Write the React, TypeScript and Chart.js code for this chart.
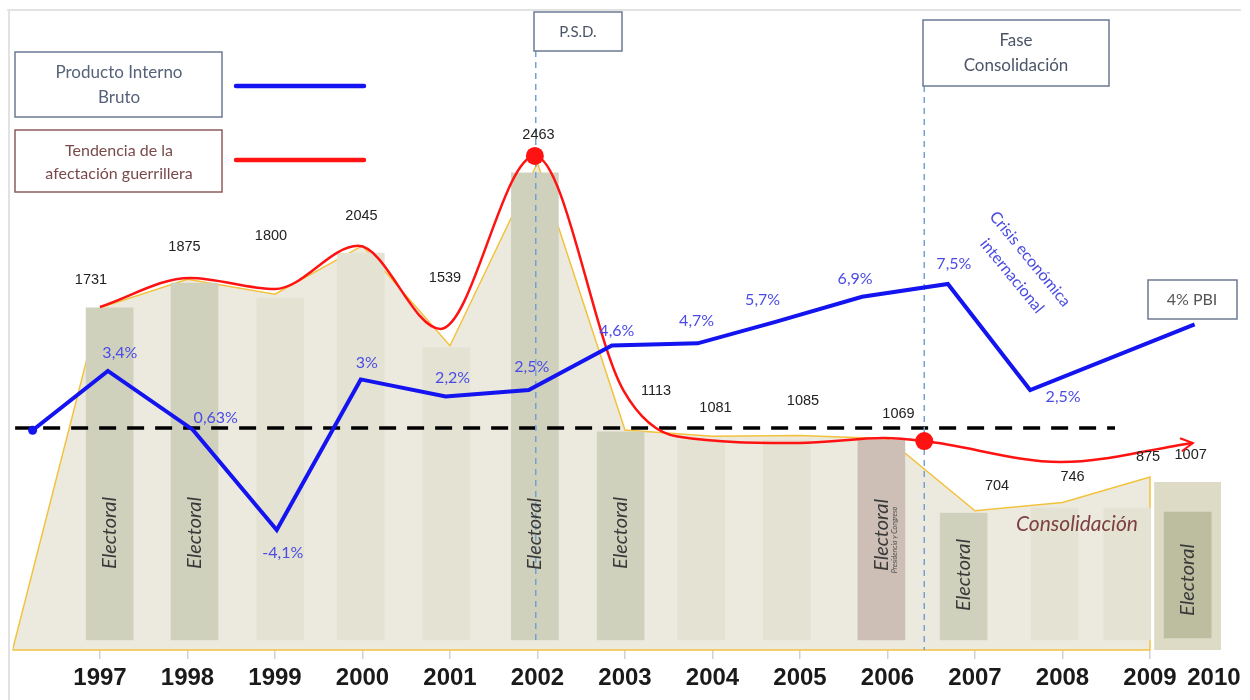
import { useEffect, useRef } from 'react';
import { Chart, registerables } from 'chart.js';

Chart.register(...registerables);

// ---------------- data ----------------
const xTickYears = [1997, 1998, 1999, 2000, 2001, 2002, 2003, 2004, 2005, 2006, 2007, 2008, 2009, 2009.73];
const xTickLabels = ['1997', '1998', '1999', '2000', '2001', '2002', '2003', '2004', '2005', '2006', '2007', '2008', '2009', '2010'];

// guerrilla affectation (area)
const areaYears = [1996, 1997, 1998, 1999, 2000, 2001, 2002, 2003, 2004, 2005, 2006, 2007, 2008, 2009];
const areaCounts = [0, 1731, 1875, 1800, 2045, 1539, 2463, 1113, 1081, 1085, 1069, 704, 746, 875];

// count labels
const countLabelYears = [1997, 1998, 1999, 2000, 2001, 2002, 2003, 2004, 2005, 2006, 2007, 2008, 2009, 2009.43];
const countLabelValues = [1731, 1875, 1800, 2045, 1539, 2463, 1113, 1081, 1085, 1069, 704, 746, 875, 1007];

// yearly columns
const barYears = [1997.11, 1998.08, 1999.06, 1999.98, 2000.96, 2001.97, 2002.95, 2003.87, 2004.85, 2005.93, 2006.87, 2007.91, 2008.74];
const barTops = [1730, 1856, 1780, 2008, 1528, 2413, 1103, 1062, 1062, 1062, 693, 718, 718];
const barKinds = ['E', 'E', 'N', 'N', 'N', 'E', 'E', 'N', 'N', 'P', 'E', 'N', 'N'];
const barBase = 51;
const bar2010Year = 2009.43;
const bar2010Outer = [-10, 850];
const bar2010Inner = [61, 698];

// trend of guerrilla affectation (red)
const trendYears = [1997, 1998.03, 1999, 1999.95, 2000.89, 2001.97, 2002.98, 2003.6, 2004.99, 2005.96, 2006.42, 2007.98, 2009.49];
const trendCounts = [1735, 1882, 1826, 2044, 1624, 2499, 1315, 1080, 1047, 1072, 1057, 951, 1047];
const trendMarkers = [5, 10];

// GDP growth (blue)
const gdpYears = [1996.23, 1997.09, 1998.06, 1999.02, 1999.98, 2000.95, 2001.9, 2002.85, 2003.83, 2004.71, 2005.71, 2006.69, 2007.63, 2009.51];
const gdpValues = [0.6, 3.4, 0.63, -4.1, 3.0, 2.2, 2.5, 4.6, 4.7, 5.7, 6.9, 7.5, 2.5, 5.6];
const gdpLabels = ['', '3,4%', '0,63%', '-4,1%', '3%', '2,2%', '2,5%', '4,6%', '4,7%', '5,7%', '6,9%', '7,5%', '2,5%', ''];

// dashed reference line
const thresholdYears = [1996.03, 2008.6];
const thresholdCount = 1123;

// phase markers
const psdYear = 2001.98;
const consolidationYear = 2006.42;

// ---------------- layout / style ----------------
const countLabelDx = [-9, -3, -4, -1, -5, 1, 31, 3, 3, 11, 22, 10, -2, 3];
const countLabelDy = [-28, -32, -58, -30, -68, -28, -39, -28, -34, -25, -25, -26, -20, 4];
const gdpLabelDx = [0, 12, 23, 6, 6, 7, 3, 5, -1, -12, -7, 6, 33, 0];
const gdpLabelDy = [0, -18, -12, 23, -17, -19, -23, -15, -23, -22, -18, -20, 7, 0];
const electoralBars = [0, 1, 5, 6, 9, 10];
const electoralY = [533, 533, 534, 533, 535, 575];
const electoral2010Y = 580;
const outerHalfWidthYears = 0.383;

const BLUE = '#1414f0';
const RED = '#ff1212';
const GOLD = '#f3c23c';
const AREA = '#eceadf';
const BAR_COLORS: Record<string, string> = { E: '#cfd1bd', N: '#e3e2d3', P: '#cdbfb6' };
const SLATE = '#6b7a91';
const CAL = 'Lato, "Open Sans", sans-serif';

function txt(ctx: CanvasRenderingContext2D, s: string, x: number, y: number, font: string, color: string, rot = 0) {
  ctx.save();
  ctx.translate(x, y);
  ctx.rotate(rot);
  ctx.font = font;
  ctx.fillStyle = color;
  ctx.textAlign = 'center';
  ctx.textBaseline = 'middle';
  ctx.fillText(s, 0, 0);
  ctx.restore();
}

function box(ctx: CanvasRenderingContext2D, x: number, y: number, w: number, h: number, color: string) {
  ctx.save();
  ctx.fillStyle = '#ffffff';
  ctx.fillRect(x, y, w, h);
  ctx.strokeStyle = color;
  ctx.lineWidth = 1.5;
  ctx.strokeRect(x, y, w, h);
  ctx.restore();
}

function seg(ctx: CanvasRenderingContext2D, x1: number, y1: number, x2: number, y2: number, color: string, lw: number) {
  ctx.save();
  ctx.strokeStyle = color;
  ctx.lineWidth = lw;
  ctx.lineCap = 'round';
  ctx.beginPath();
  ctx.moveTo(x1, y1);
  ctx.lineTo(x2, y2);
  ctx.stroke();
  ctx.restore();
}

const overlayPlugin = {
  id: 'overlay',
  afterDatasetDraw(chart: any, args: any) {
    const ds = chart.data.datasets[args.index];
    if (ds.label !== 'threshold') return;
    const ctx = chart.ctx as CanvasRenderingContext2D;
    const xs = chart.scales.x;
    ctx.save();
    ctx.strokeStyle = '#72a2d4';
    ctx.lineWidth = 1.5;
    ctx.setLineDash([6, 5]);
    const marks = [
      { year: psdYear, y0: 51, y1: 640 },
      { year: consolidationYear, y0: 86, y1: 650 },
    ];
    for (const m of marks) {
      const px = xs.getPixelForValue(m.year);
      ctx.beginPath();
      ctx.moveTo(px, m.y0);
      ctx.lineTo(px, m.y1);
      ctx.stroke();
    }
    ctx.restore();
  },
  afterDatasetsDraw(chart: any) {
    const ctx = chart.ctx as CanvasRenderingContext2D;
    const xs = chart.scales.x;
    const yC = chart.scales.yC;
    const yG = chart.scales.yG;

    // frame
    seg(ctx, 8, 10, 1240, 10, '#e2e2e2', 2);
    seg(ctx, 9, 10, 9, 700, '#e2e2e2', 2);

    // legend boxes
    box(ctx, 15, 52, 207, 65, SLATE);
    txt(ctx, 'Producto Interno', 119, 73, `17px ${CAL}`, '#56627a');
    txt(ctx, 'Bruto', 119, 98, `17px ${CAL}`, '#56627a');
    box(ctx, 15, 130, 207, 62, '#8e5c5c');
    txt(ctx, 'Tendencia de la', 119, 151, `16px ${CAL}`, '#7a4a4a');
    txt(ctx, 'afectación guerrillera', 119, 174, `16px ${CAL}`, '#7a4a4a');
    seg(ctx, 236, 86, 364, 86, BLUE, 4.5);
    seg(ctx, 236, 160, 364, 160, RED, 4.5);

    // phase boxes
    box(ctx, 534, 12, 88, 39, SLATE);
    txt(ctx, 'P.S.D.', 578, 32, `15px ${CAL}`, '#4b5567');
    box(ctx, 923, 20, 186, 66, SLATE);
    txt(ctx, 'Fase', 1016, 41, `17px ${CAL}`, '#4b5567');
    txt(ctx, 'Consolidación', 1016, 66, `17px ${CAL}`, '#4b5567');
    box(ctx, 1148, 280, 89, 39, SLATE);
    txt(ctx, '4% PBI', 1192, 300, `16px ${CAL}`, '#555555');

    // crisis annotation
    const rot = 0.885;
    txt(ctx, 'Crisis económica', 1030, 259, `16px ${CAL}`, '#4a4ae2', rot);
    txt(ctx, 'internacional', 1012, 276, `16px ${CAL}`, '#4a4ae2', rot);

    // consolidation label
    txt(ctx, 'Consolidación', 1077, 524, `italic 21px ${CAL}`, '#7d3f3f');

    // electoral labels
    electoralBars.forEach((bi, k) => {
      const px = xs.getPixelForValue(barYears[bi]);
      txt(ctx, 'Electoral', px, electoralY[k], `italic 20px ${CAL}`, '#3a3a3a', -Math.PI / 2);
      if (barKinds[bi] === 'P') {
        txt(ctx, 'Presidencia y Congreso', px + 13, 540, `italic 7px ${CAL}`, '#4a4a4a', -Math.PI / 2);
      }
    });
    txt(ctx, 'Electoral', xs.getPixelForValue(bar2010Year), electoral2010Y, `italic 20px ${CAL}`, '#3a3a3a', -Math.PI / 2);

    // count labels
    countLabelValues.forEach((v, i) => {
      const px = xs.getPixelForValue(countLabelYears[i]) + countLabelDx[i];
      const py = yC.getPixelForValue(v) + countLabelDy[i];
      txt(ctx, String(v), px, py, '14.5px "Liberation Sans", Arial, sans-serif', '#222222');
    });

    // gdp labels
    gdpLabels.forEach((s, i) => {
      if (!s) return;
      const px = xs.getPixelForValue(gdpYears[i]) + gdpLabelDx[i];
      const py = yG.getPixelForValue(gdpValues[i]) + gdpLabelDy[i];
      txt(ctx, s, px, py, `16px ${CAL}`, '#4b4be6');
    });

    // arrow head on trend line
    const tIdx = chart.data.datasets.findIndex((d: any) => d.label === 'trend');
    const pts = chart.getDatasetMeta(tIdx).data;
    const p2 = pts[pts.length - 1];
    const p1 = pts[pts.length - 2];
    const ang = Math.atan2(p2.y - p1.y, p2.x - p1.x);
    ctx.save();
    ctx.strokeStyle = RED;
    ctx.lineWidth = 2;
    ctx.lineCap = 'round';
    ctx.beginPath();
    ctx.moveTo(p2.x - 13 * Math.cos(ang - 0.5), p2.y - 13 * Math.sin(ang - 0.5));
    ctx.lineTo(p2.x, p2.y);
    ctx.lineTo(p2.x - 13 * Math.cos(ang + 0.5), p2.y - 13 * Math.sin(ang + 0.5));
    ctx.stroke();
    ctx.restore();
  },
};

export default function App() {
  const ref = useRef<HTMLCanvasElement>(null);

  useEffect(() => {
    if (!ref.current) return;
    const areaData = areaYears.map((x, i) => ({ x, y: areaCounts[i] }));
    areaData.push({ x: areaYears[areaYears.length - 1], y: 0 });

    const chart = new Chart(ref.current, {
      type: 'line',
      data: {
        datasets: [
          {
            type: 'line',
            label: 'area',
            data: areaData,
            borderColor: GOLD,
            borderWidth: 1.5,
            backgroundColor: AREA,
            fill: 'origin',
            pointRadius: 0,
            tension: 0,
            yAxisID: 'yC',
            order: 20,
          },
          {
            type: 'line',
            label: 'baseline',
            data: [
              { x: areaYears[0], y: 0 },
              { x: areaYears[areaYears.length - 1], y: 0 },
            ],
            borderColor: GOLD,
            borderWidth: 1.5,
            pointRadius: 0,
            fill: false,
            clip: false,
            yAxisID: 'yC',
            order: 19,
          },
          {
            type: 'bar',
            label: 'bars',
            data: barYears.map((x, i) => ({ x, y: [barBase, barTops[i]] })),
            backgroundColor: barKinds.map((k) => BAR_COLORS[k]),
            barThickness: 47,
            maxBarThickness: 47,
            grouped: false,
            yAxisID: 'yC',
            order: 15,
          },
          {
            type: 'line',
            label: 'outer2010',
            data: [
              { x: bar2010Year - outerHalfWidthYears, y: bar2010Outer[1] },
              { x: bar2010Year + outerHalfWidthYears, y: bar2010Outer[1] },
            ],
            borderWidth: 0,
            pointRadius: 0,
            backgroundColor: '#dddac6',
            fill: { value: bar2010Outer[0] },
            yAxisID: 'yC',
            order: 14,
          },
          {
            type: 'bar',
            label: 'inner2010',
            data: [{ x: bar2010Year, y: bar2010Inner }],
            backgroundColor: '#bcbe9f',
            barThickness: 47,
            maxBarThickness: 47,
            grouped: false,
            yAxisID: 'yC',
            order: 13,
          },
          {
            type: 'line',
            label: 'threshold',
            data: thresholdYears.map((x) => ({ x, y: thresholdCount })),
            borderColor: '#000000',
            borderWidth: 3.5,
            borderDash: [17, 11],
            pointRadius: 0,
            fill: false,
            yAxisID: 'yC',
            order: 5,
          },
          {
            type: 'line',
            label: 'trend',
            data: trendYears.map((x, i) => ({ x, y: trendCounts[i] })),
            borderColor: RED,
            borderWidth: 2.5,
            cubicInterpolationMode: 'monotone',
            pointRadius: trendYears.map((_, i) => (trendMarkers.includes(i) ? 9 : 0)),
            pointBackgroundColor: RED,
            pointBorderWidth: 0,
            fill: false,
            yAxisID: 'yC',
            order: 3,
          },
          {
            type: 'line',
            label: 'gdp',
            data: gdpYears.map((x, i) => ({ x, y: gdpValues[i] })),
            borderColor: BLUE,
            borderWidth: 4,
            tension: 0,
            pointRadius: gdpYears.map((_, i) => (i === 0 ? 4.5 : 0)),
            pointBackgroundColor: BLUE,
            pointBorderWidth: 0,
            fill: false,
            yAxisID: 'yG',
            order: 2,
          },
        ] as any,
      },
      options: {
        animation: false,
        responsive: true,
        maintainAspectRatio: false,
        events: [],
        layout: { padding: { left: 12.5, right: 12.5, top: 10, bottom: 0 } },
        plugins: { legend: { display: false }, tooltip: { enabled: false } },
        scales: {
          x: {
            type: 'linear',
            min: 1996,
            max: 2010,
            offset: false,
            afterBuildTicks: (s: any) => {
              s.ticks = xTickYears.map((v) => ({ value: v }));
            },
            afterFit: (s: any) => {
              s.height = 50;
            },
            grid: {
              display: true,
              offset: false,
              drawOnChartArea: false,
              drawTicks: true,
              tickLength: 9,
              color: (c: any) => (c.index === xTickYears.length - 1 ? 'rgba(0,0,0,0)' : '#d2d2d2'),
              lineWidth: 1.5,
            },
            border: { display: false },
            ticks: {
              autoSkip: false,
              maxRotation: 0,
              padding: 5,
              color: '#1a1a1a',
              font: { family: '"Liberation Sans", Arial, sans-serif', size: 24, weight: 'bold' },
              callback: (_v: any, i: number) => xTickLabels[i],
            },
          },
          yC: { type: 'linear', display: false, min: 0, max: 3237 },
          yG: { type: 'linear', display: false, min: -9.76, max: 20.42 },
        } as any,
      },
      plugins: [overlayPlugin],
    });
    return () => chart.destroy();
  }, []);

  return (
    <div style={{ position: 'fixed', left: 0, top: 0, width: 1250, height: 700, background: '#ffffff' }}>
      <canvas ref={ref} />
    </div>
  );
}
